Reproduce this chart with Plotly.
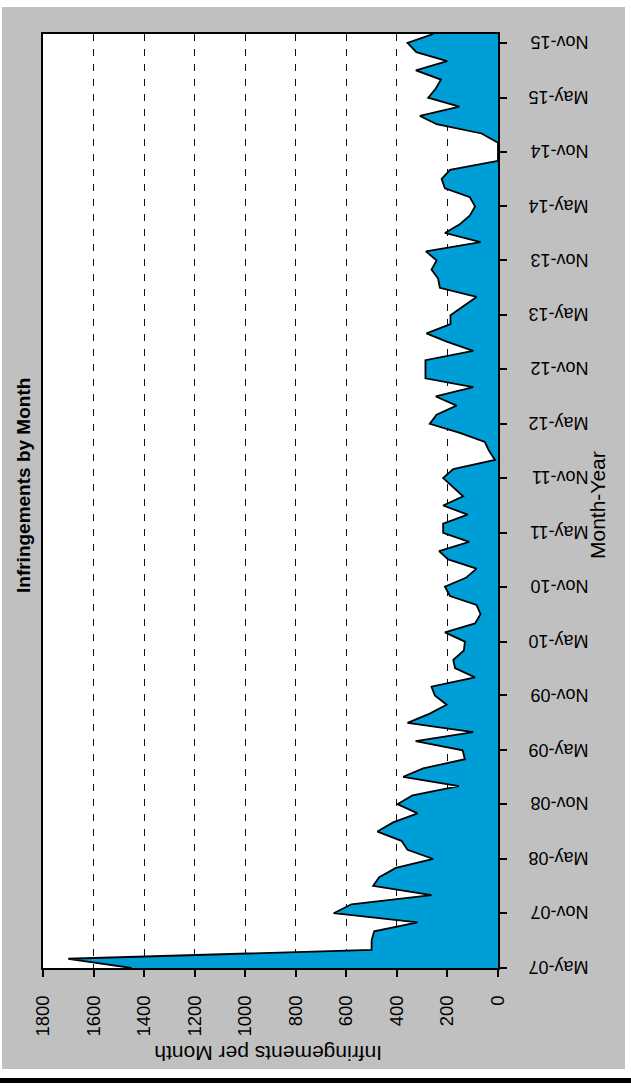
import pandas as pd
import plotly.graph_objects as go

# ---- data (monthly, May-07 .. Dec-15) ----
start_month = "2007-05-01"
values = [
    # 2007 May-Dec
    1450, 1700, 500, 500, 490, 318, 650, 580,
    # 2008
    263, 494, 470, 404, 256, 358, 382, 477, 415, 318, 398, 338,
    # 2009
    155, 375, 296, 131, 140, 326, 98, 358, 270, 203, 250, 263,
    # 2010
    91, 170, 177, 135, 131, 210, 91, 69, 85, 190, 210, 127,
    # 2011
    85, 197, 233, 114, 217, 217, 120, 217, 138, 177, 217, 177,
    # 2012
    12, 36, 52, 151, 270, 243, 164, 246, 98, 287, 287, 287,
    # 2013
    98, 203, 283, 188, 188, 138, 85, 230, 237, 263, 243, 285,
    # 2014
    69, 210, 153, 111, 91, 111, 210, 223, 190, 0, 0, 0,
    # 2015
    65, 243, 309, 153, 276, 246, 226, 325, 201, 323, 358, 256,
]
months = pd.date_range(start_month, periods=len(values), freq="MS")

value_ticks = [0, 200, 400, 600, 800, 1000, 1200, 1400, 1600, 1800]
date_tick_labels = ["May-07", "Nov-07", "May-08", "Nov-08", "May-09", "Nov-09",
                    "May-10", "Nov-10", "May-11", "Nov-11", "May-12", "Nov-12",
                    "May-13", "Nov-13", "May-14", "Nov-14", "May-15", "Nov-15"]
date_tick_vals = pd.to_datetime(date_tick_labels, format="%b-%y")

title_text = "Infringements by Month"
value_title = "Infringements per Month"
date_title = "Month-Year"

# ---- layout geometry (pixels) ----
W, H = 631, 1090
L, R, T, B = 43, 498, 34, 968  # plot area edges


def px(xp):
    return (xp - L) / (R - L)


def py(yp):
    return (B - yp) / (B - T)


FONT = "Liberation Sans, Arial, sans-serif"

fig = go.Figure()
fig.add_trace(go.Scatter(
    x=values, y=months, mode="lines", fill="tozerox",
    fillcolor="#009ED6", line=dict(color="black", width=1.8),
    hoverinfo="skip", showlegend=False,
))

fig.update_layout(
    width=W, height=H, autosize=False,
    margin=dict(l=L, r=W - R, t=T, b=H - B, pad=0),
    paper_bgcolor="white", plot_bgcolor="white",
    font=dict(family=FONT, size=18, color="black"),
    showlegend=False,
    xaxis=dict(
        range=[1800, 0], tickvals=value_ticks, ticktext=[str(v) for v in value_ticks],
        tickangle=-90, ticks="outside", ticklen=7, tickwidth=1.5, tickcolor="black",
        showline=True, mirror=True, linecolor="black", linewidth=2,
        showgrid=True, gridcolor="#111", gridwidth=1, griddash="7px,8px",
        zeroline=False, ticklabelstandoff=11, automargin=False,
        tickfont=dict(size=18.5, family=FONT, color="black"),
    ),
    yaxis=dict(
        type="date", range=[months[0], months[-1]], side="right",
        tickvals=date_tick_vals, ticktext=date_tick_labels, tickangle=180,
        ticks="outside", ticklen=7, tickwidth=1.5, tickcolor="black",
        showline=True, mirror=True, linecolor="black", linewidth=2,
        showgrid=False, zeroline=False, ticklabelstandoff=78,
        ticklabelshift=5, automargin=False,
        tickfont=dict(size=18, family=FONT, color="black"),
    ),
    shapes=[
        dict(type="rect", xref="paper", yref="paper", layer="below",
             x0=px(2), x1=px(625), y0=py(1069), y1=py(7),
             fillcolor="#C0C0C0", line=dict(width=0)),
        dict(type="rect", xref="paper", yref="paper", layer="below",
             x0=0, x1=1, y0=0, y1=1,
             fillcolor="white", line=dict(width=0)),
        dict(type="rect", xref="paper", yref="paper", layer="above",
             x0=px(0), x1=px(631), y0=py(1083), y1=py(1078),
             fillcolor="black", line=dict(width=0)),
    ],
    annotations=[
        dict(text="<b>" + title_text + "</b>", xref="paper", yref="paper",
             x=px(23), y=py(486), textangle=-90, showarrow=False,
             font=dict(size=19, family=FONT, color="black"),
             xanchor="center", yanchor="middle"),
        dict(text=value_title, xref="paper", yref="paper",
             x=px(268), y=py(1054), textangle=180, showarrow=False,
             font=dict(size=21, family=FONT, color="black"),
             xanchor="center", yanchor="middle"),
        dict(text=date_title, xref="paper", yref="paper",
             x=px(597), y=py(505), textangle=-90, showarrow=False,
             font=dict(size=21, family=FONT, color="black"),
             xanchor="center", yanchor="middle"),
    ],
)

fig.write_html("out.html", config={"displayModeBar": False},
               post_script="document.body.style.margin='0';")
